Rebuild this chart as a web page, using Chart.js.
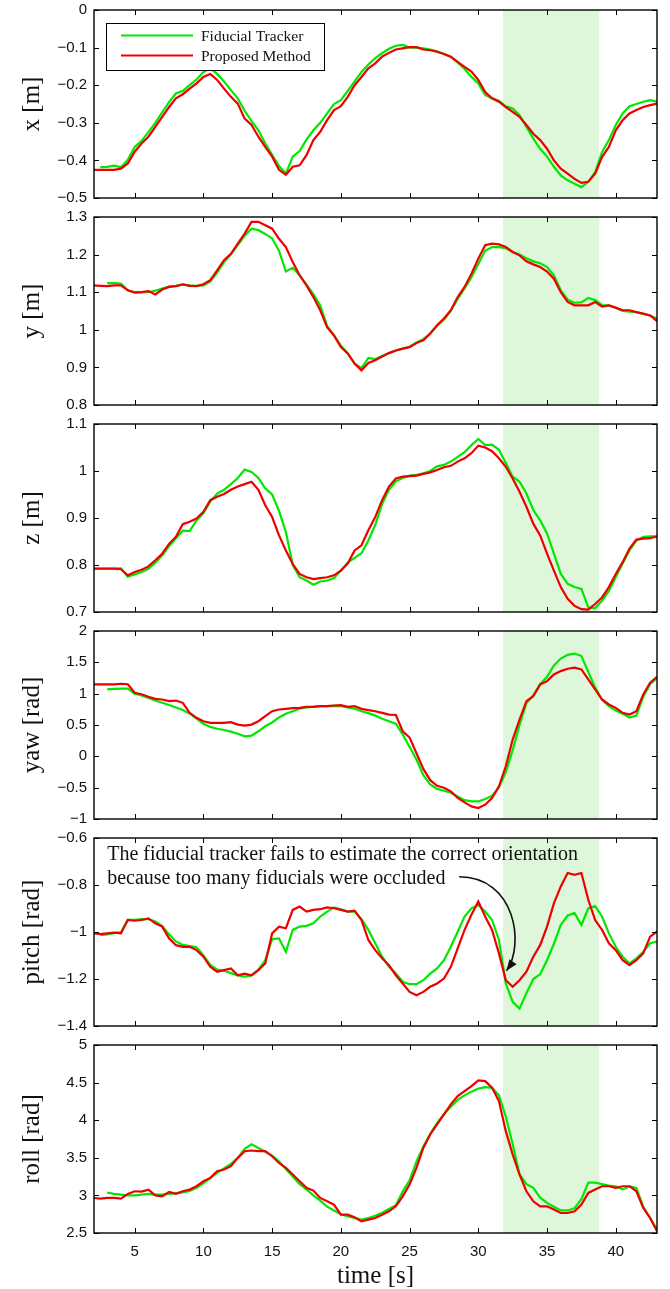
<!DOCTYPE html>
<html>
<head>
<meta charset="utf-8">
<title>Fiducial tracker vs proposed method</title>
<script src="https://cdn.jsdelivr.net/npm/chart.js@4.4.0/dist/chart.umd.min.js"></script>
<style>
  body { margin: 0; background: #fff; }
  #wrap { position: relative; width: 670px; height: 1289px; overflow: hidden; }
  #wrap canvas { position: absolute; left: 0; }
</style>
</head>
<body>
<div id="wrap"></div>
<script>
// time axis, seconds (samples every 0.5 s)
const time = [2, 2.5, 3, 3.5, 4, 4.5, 5, 5.5, 6, 6.5, 7, 7.5, 8, 8.5, 9, 9.5, 10, 10.5, 11, 11.5,
  12, 12.5, 13, 13.5, 14, 14.5, 15, 15.5, 16, 16.5, 17, 17.5, 18, 18.5, 19, 19.5, 20, 20.5, 21, 21.5,
  22, 22.5, 23, 23.5, 24, 24.5, 25, 25.5, 26, 26.5, 27, 27.5, 28, 28.5, 29, 29.5, 30, 30.5, 31, 31.5,
  32, 32.5, 33, 33.5, 34, 34.5, 35, 35.5, 36, 36.5, 37, 37.5, 38, 38.5, 39, 39.5, 40, 40.5, 41, 41.5,
  42, 42.5, 43];

const seriesLabels = ["Fiducial Tracker", "Proposed Method"];
const occluded = [31.8, 38.8];
const xTicks = [5, 10, 15, 20, 25, 30, 35, 40];
const noteLines = [
  "The fiducial tracker fails to estimate the correct orientation",
  "because too many fiducials were occluded"
];

const xTracker = [null, -0.418, -0.417, -0.414, -0.418, -0.398, -0.364, -0.348, -0.325, -0.3, -0.272, -0.245, -0.222, -0.215, -0.2, -0.185, -0.165, -0.155, -0.17, -0.19,
  -0.213, -0.235, -0.268, -0.295, -0.32, -0.355, -0.385, -0.415, -0.435, -0.39, -0.375, -0.345, -0.32, -0.3, -0.275, -0.25, -0.24, -0.215, -0.19, -0.165,
  -0.145, -0.128, -0.115, -0.103, -0.095, -0.093, -0.1, -0.1, -0.102, -0.105, -0.11, -0.117, -0.125, -0.14, -0.157, -0.178, -0.195, -0.226, -0.235, -0.241,
  -0.256, -0.262, -0.28, -0.311, -0.342, -0.369, -0.39, -0.417, -0.44, -0.453, -0.462, -0.471, -0.457, -0.431, -0.378, -0.346, -0.306, -0.275, -0.256, -0.25,
  -0.244, -0.24, -0.244];
const xProposed = [-0.425, -0.425, -0.425, -0.425, -0.422, -0.408, -0.377, -0.355, -0.337, -0.311, -0.284, -0.258, -0.235, -0.224, -0.209, -0.195, -0.178, -0.17, -0.186, -0.209,
  -0.231, -0.249, -0.289, -0.306, -0.337, -0.364, -0.39, -0.425, -0.438, -0.417, -0.413, -0.386, -0.346, -0.324, -0.293, -0.266, -0.256, -0.231, -0.2, -0.178,
  -0.155, -0.142, -0.124, -0.114, -0.105, -0.102, -0.099, -0.099, -0.105, -0.107, -0.111, -0.117, -0.124, -0.138, -0.151, -0.164, -0.186, -0.218, -0.235, -0.244,
  -0.258, -0.271, -0.284, -0.306, -0.329, -0.346, -0.369, -0.4, -0.422, -0.435, -0.449, -0.46, -0.457, -0.435, -0.391, -0.364, -0.32, -0.293, -0.275, -0.266,
  -0.258, -0.253, -0.249];

const yTracker = [null, null, 1.124, 1.124, 1.123, 1.105, 1.1, 1.1, 1.1, 1.104, 1.11, 1.115, 1.117, 1.12, 1.118, 1.117, 1.118, 1.128, 1.152, 1.18,
  1.2, 1.225, 1.25, 1.269, 1.265, 1.255, 1.243, 1.21, 1.155, 1.165, 1.145, 1.12, 1.095, 1.065, 1.01, 0.985, 0.958, 0.937, 0.91, 0.898,
  0.925, 0.922, 0.93, 0.938, 0.945, 0.95, 0.955, 0.966, 0.975, 0.99, 1.01, 1.027, 1.05, 1.082, 1.11, 1.14, 1.175, 1.21, 1.22, 1.22,
  1.217, 1.207, 1.2, 1.19, 1.182, 1.177, 1.167, 1.145, 1.105, 1.08, 1.072, 1.073, 1.085, 1.079, 1.066, 1.065, 1.058, 1.05, 1.048, 1.047,
  1.042, 1.038, 1.03];
const yProposed = [1.118, 1.117, 1.116, 1.118, 1.118, 1.105, 1.099, 1.1, 1.103, 1.094, 1.107, 1.114, 1.116, 1.121, 1.117, 1.116, 1.121, 1.132, 1.158, 1.185,
  1.202, 1.229, 1.256, 1.287, 1.287, 1.278, 1.269, 1.242, 1.22, 1.18, 1.145, 1.118, 1.087, 1.052, 1.007, 0.985, 0.954, 0.937, 0.91, 0.892,
  0.912, 0.919, 0.929, 0.938, 0.945, 0.95, 0.954, 0.965, 0.972, 0.99, 1.012, 1.03, 1.052, 1.087, 1.114, 1.149, 1.189, 1.225, 1.229, 1.227,
  1.22, 1.207, 1.198, 1.182, 1.174, 1.167, 1.155, 1.136, 1.1, 1.074, 1.065, 1.065, 1.065, 1.074, 1.062, 1.065, 1.059, 1.052, 1.052, 1.047,
  1.043, 1.038, 1.023];

const zTracker = [0.793, 0.793, 0.793, 0.793, 0.793, 0.775, 0.78, 0.785, 0.792, 0.805, 0.82, 0.84, 0.857, 0.873, 0.872, 0.895, 0.91, 0.935, 0.952, 0.96,
  0.972, 0.985, 1.003, 0.998, 0.985, 0.963, 0.95, 0.915, 0.87, 0.8, 0.774, 0.767, 0.758, 0.765, 0.767, 0.772, 0.788, 0.805, 0.815, 0.825,
  0.852, 0.885, 0.93, 0.96, 0.978, 0.985, 0.99, 0.992, 0.995, 1.0, 1.01, 1.013, 1.02, 1.03, 1.04, 1.055, 1.068, 1.055, 1.056, 1.045,
  1.017, 0.988, 0.977, 0.952, 0.917, 0.895, 0.867, 0.824, 0.781, 0.76, 0.753, 0.749, 0.71, 0.708, 0.724, 0.745, 0.774, 0.803, 0.831, 0.852,
  0.86, 0.861, 0.861];
const zProposed = [0.792, 0.792, 0.792, 0.792, 0.791, 0.778, 0.785, 0.79, 0.797, 0.81, 0.824, 0.845, 0.86, 0.887, 0.892, 0.899, 0.913, 0.938, 0.945, 0.951,
  0.96, 0.967, 0.972, 0.977, 0.96, 0.927, 0.902, 0.863, 0.831, 0.802, 0.781, 0.774, 0.77, 0.772, 0.774, 0.778, 0.788, 0.803, 0.831, 0.842,
  0.874, 0.902, 0.938, 0.967, 0.984, 0.988, 0.989, 0.99, 0.994, 0.997, 1.002, 1.008, 1.011, 1.02, 1.027, 1.038, 1.054, 1.05, 1.042, 1.027,
  1.009, 0.984, 0.956, 0.924, 0.888, 0.863, 0.824, 0.788, 0.753, 0.728, 0.713, 0.706, 0.705, 0.717, 0.731, 0.753, 0.781, 0.806, 0.835, 0.854,
  0.856, 0.857, 0.861];

const yawTracker = [null, null, 1.067, 1.075, 1.08, 1.08, 1.0, 0.97, 0.93, 0.89, 0.855, 0.82, 0.78, 0.74, 0.68, 0.6, 0.52, 0.47, 0.44, 0.42,
  0.395, 0.36, 0.32, 0.33, 0.4, 0.48, 0.54, 0.62, 0.68, 0.72, 0.76, 0.78, 0.79, 0.8, 0.8, 0.805, 0.8, 0.78, 0.76, 0.72,
  0.69, 0.65, 0.6, 0.56, 0.52, 0.35, 0.15, -0.05, -0.3, -0.45, -0.52, -0.55, -0.58, -0.64, -0.7, -0.72, -0.72, -0.68, -0.63, -0.5,
  -0.25, 0.1, 0.5, 0.85, 0.97, 1.15, 1.27, 1.45, 1.56, 1.62, 1.64, 1.6, 1.35, 1.1, 0.9, 0.8, 0.73, 0.68, 0.62, 0.65,
  0.95, 1.15, 1.25];
const yawProposed = [1.147, 1.147, 1.147, 1.147, 1.158, 1.15, 1.014, 0.99, 0.95, 0.918, 0.907, 0.88, 0.89, 0.854, 0.694, 0.614, 0.56, 0.534, 0.534, 0.534,
  0.545, 0.507, 0.491, 0.507, 0.56, 0.64, 0.72, 0.747, 0.758, 0.769, 0.774, 0.79, 0.79, 0.801, 0.801, 0.811, 0.817, 0.79, 0.8, 0.758,
  0.737, 0.72, 0.694, 0.667, 0.66, 0.4, 0.3, 0.05, -0.2, -0.38, -0.47, -0.5, -0.559, -0.665, -0.735, -0.799, -0.825, -0.772, -0.665, -0.479,
  -0.159, 0.268, 0.587, 0.88, 0.96, 1.147, 1.2, 1.307, 1.36, 1.398, 1.414, 1.387, 1.227, 1.067, 0.907, 0.827, 0.774, 0.694, 0.667, 0.72,
  0.987, 1.174, 1.27];

const pitchTracker = [null, -1.013, -1.01, -1.005, -1.0, -0.948, -0.948, -0.945, -0.945, -0.955, -0.975, -1.01, -1.04, -1.055, -1.06, -1.065, -1.1, -1.14, -1.16, -1.165,
  -1.175, -1.185, -1.19, -1.185, -1.16, -1.12, -1.03, -1.027, -1.084, -0.991, -0.977, -0.974, -0.963, -0.934, -0.913, -0.895, -0.903, -0.913, -0.913, -0.945,
  -0.991, -1.048, -1.105, -1.148, -1.177, -1.212, -1.222, -1.222, -1.205, -1.177, -1.155, -1.12, -1.063, -0.999, -0.934, -0.899, -0.885, -0.913, -0.949, -1.034,
  -1.219, -1.297, -1.326, -1.26, -1.2, -1.18, -1.12, -1.05, -0.97, -0.93, -0.92, -0.97, -0.9, -0.89, -0.934, -1.006, -1.063, -1.105, -1.134, -1.112,
  -1.084, -1.048, -1.041];
const pitchProposed = [-1.006, -1.009, -1.006, -1.003, -1.006, -0.949, -0.952, -0.949, -0.942, -0.963, -0.977, -1.027, -1.056, -1.063, -1.063, -1.077, -1.105, -1.148, -1.169, -1.162,
  -1.155, -1.184, -1.177, -1.184, -1.162, -1.134, -1.006, -0.977, -0.984, -0.906, -0.892, -0.913, -0.906, -0.903, -0.895, -0.899, -0.906, -0.913, -0.909, -0.949,
  -1.034, -1.077, -1.112, -1.141, -1.184, -1.219, -1.255, -1.269, -1.255, -1.233, -1.219, -1.198, -1.148, -1.07, -0.991, -0.927, -0.87, -0.934, -0.991, -1.091,
  -1.205, -1.233, -1.205, -1.169, -1.105, -1.056, -0.977, -0.878, -0.806, -0.749, -0.757, -0.749, -0.863, -0.949, -0.991, -1.048, -1.077, -1.12, -1.141, -1.12,
  -1.091, -1.02, -0.998];

const rollTracker = [null, null, 3.037, 3.02, 3.01, 3.0, 3.0, 3.01, 3.02, 3.01, 3.01, 3.02, 3.03, 3.04, 3.06, 3.1, 3.16, 3.23, 3.3, 3.36,
  3.42, 3.5, 3.62, 3.68, 3.63, 3.58, 3.53, 3.45, 3.35, 3.25, 3.15, 3.08, 3.0, 2.93, 2.85, 2.8, 2.75, 2.72, 2.7, 2.68,
  2.7, 2.73, 2.77, 2.82, 2.87, 3.05, 3.2, 3.45, 3.65, 3.82, 3.96, 4.08, 4.18, 4.27, 4.33, 4.38, 4.42, 4.44, 4.43, 4.33,
  4.05, 3.68, 3.28, 3.15, 3.1, 2.97, 2.9, 2.85, 2.8, 2.8, 2.83, 2.95, 3.17, 3.17, 3.15, 3.13, 3.12, 3.08, 3.12, 3.1,
  2.85, 2.7, 2.55];
const rollProposed = [2.966, 2.957, 2.966, 2.966, 2.957, 3.02, 3.055, 3.05, 3.077, 3.0, 2.988, 3.046, 3.02, 3.055, 3.077, 3.122, 3.188, 3.233, 3.321, 3.344,
  3.388, 3.499, 3.588, 3.597, 3.588, 3.588, 3.521, 3.432, 3.366, 3.277, 3.188, 3.1, 3.064, 2.966, 2.922, 2.877, 2.744, 2.744, 2.709, 2.655,
  2.678, 2.7, 2.744, 2.789, 2.855, 2.988, 3.144, 3.366, 3.632, 3.81, 3.943, 4.076, 4.21, 4.321, 4.387, 4.454, 4.529, 4.52, 4.432, 4.254,
  3.854, 3.544, 3.277, 3.055, 2.922, 2.855, 2.855, 2.811, 2.766, 2.766, 2.789, 2.877, 3.033, 3.077, 3.122, 3.122, 3.1, 3.122, 3.122, 3.055,
  2.833, 2.7, 2.522];

const panels = [
  { title: "x [m]", min: -0.5, max: 0, step: 0.1, tracker: xTracker, proposed: xProposed },
  { title: "y [m]", min: 0.8, max: 1.3, step: 0.1, tracker: yTracker, proposed: yProposed },
  { title: "z [m]", min: 0.7, max: 1.1, step: 0.1, tracker: zTracker, proposed: zProposed },
  { title: "yaw [rad]", min: -1, max: 2, step: 0.5, tracker: yawTracker, proposed: yawProposed },
  { title: "pitch [rad]", min: -1.4, max: -0.6, step: 0.2, tracker: pitchTracker, proposed: pitchProposed },
  { title: "roll [rad]", min: 2.5, max: 5, step: 0.5, tracker: rollTracker, proposed: rollProposed }
];

const GREEN = "rgb(0, 232, 0)";
const RED = "rgb(238, 0, 0)";
const SHADE = "rgb(222, 246, 218)";
const SERIF = "'Liberation Serif', 'Times New Roman', serif";
const plotTops = [10, 217, 424, 631, 838, 1045];
const plotHeight = 188;

Chart.defaults.font.family = "'Liberation Sans', Arial, sans-serif";
Chart.defaults.color = "#111";

function toPoints(values) {
  return time.map((t, i) => ({ x: t, y: values[i] }));
}

function fmt(v) {
  return String(+v.toFixed(2)).replace("-", "\u2212");
}

// shaded occlusion band + MATLAB style box with inward ticks
const frame = {
  id: "frame",
  beforeDatasetsDraw(chart) {
    const { ctx, chartArea: a, scales: { x } } = chart;
    const x0 = x.getPixelForValue(occluded[0]);
    const x1 = x.getPixelForValue(occluded[1]);
    ctx.save();
    ctx.fillStyle = SHADE;
    ctx.fillRect(x0, a.top, x1 - x0, a.bottom - a.top);
    ctx.restore();
  },
  afterDatasetsDraw(chart) {
    const { ctx, chartArea: a, scales: { x, y } } = chart;
    ctx.save();
    ctx.strokeStyle = "#000";
    ctx.lineWidth = 1;
    ctx.beginPath();
    x.ticks.forEach(function(t) {
      const px = Math.round(x.getPixelForValue(t.value)) + 0.5;
      ctx.moveTo(px, a.bottom); ctx.lineTo(px, a.bottom - 5);
      ctx.moveTo(px, a.top); ctx.lineTo(px, a.top + 5);
    });
    y.ticks.forEach(function(t) {
      const py = Math.round(y.getPixelForValue(t.value)) + 0.5;
      ctx.moveTo(a.left, py); ctx.lineTo(a.left + 5, py);
      ctx.moveTo(a.right, py); ctx.lineTo(a.right - 5, py);
    });
    ctx.stroke();
    ctx.lineWidth = 1.4;
    ctx.strokeRect(a.left, a.top, a.right - a.left, a.bottom - a.top);
    ctx.restore();
  }
};

const boxLegend = {
  id: "boxLegend",
  afterDraw(chart) {
    const { ctx, chartArea: a } = chart;
    const left = a.left + 12, top = a.top + 13;
    ctx.save();
    ctx.fillStyle = "#fff";
    ctx.fillRect(left, top, 218, 47);
    ctx.strokeStyle = "#000";
    ctx.lineWidth = 1;
    ctx.strokeRect(left + 0.5, top + 0.5, 218, 47);
    ctx.font = "15.5px " + SERIF;
    ctx.textBaseline = "middle";
    chart.data.datasets.forEach(function(ds, i) {
      const ly = top + 12.5 + i * 20;
      ctx.strokeStyle = ds.borderColor;
      ctx.lineWidth = 2;
      ctx.beginPath();
      ctx.moveTo(left + 15, ly);
      ctx.lineTo(left + 87, ly);
      ctx.stroke();
      ctx.fillStyle = "#111";
      ctx.fillText(ds.label, left + 95, ly + 1);
    });
    ctx.restore();
  }
};

const note = {
  id: "note",
  afterDraw(chart) {
    const { ctx, scales: { x, y } } = chart;
    const px = (t) => x.getPixelForValue(t);
    const py = (v) => y.getPixelForValue(v);
    ctx.save();
    ctx.fillStyle = "#111";
    ctx.font = "20px " + SERIF;
    ctx.textBaseline = "middle";
    ctx.fillText(noteLines[0], px(3.0), py(-0.672));
    ctx.fillText(noteLines[1], px(3.0), py(-0.775));
    const p0 = [px(28.6), py(-0.765)];
    const p1 = [px(32.7), py(-0.765)];
    const p2 = [px(33.4), py(-1.055)];
    const p3 = [px(32.05), py(-1.165)];
    ctx.strokeStyle = "#111";
    ctx.lineWidth = 1.6;
    ctx.beginPath();
    ctx.moveTo(p0[0], p0[1]);
    ctx.bezierCurveTo(p1[0], p1[1], p2[0], p2[1], p3[0], p3[1]);
    ctx.stroke();
    const ang = Math.atan2(p3[1] - p2[1], p3[0] - p2[0]);
    const len = 12;
    ctx.beginPath();
    ctx.moveTo(p3[0], p3[1]);
    ctx.lineTo(p3[0] - len * Math.cos(ang - 0.38), p3[1] - len * Math.sin(ang - 0.38));
    ctx.lineTo(p3[0] - len * Math.cos(ang + 0.38), p3[1] - len * Math.sin(ang + 0.38));
    ctx.closePath();
    ctx.fill();
    ctx.restore();
  }
};

const wrap = document.getElementById("wrap");

panels.forEach(function(p, i) {
  const last = i === panels.length - 1;
  const padTop = 10;
  const below = last ? 56 : 10;
  const canvas = document.createElement("canvas");
  canvas.width = 670;
  canvas.height = padTop + plotHeight + below;
  canvas.style.top = (plotTops[i] - padTop) + "px";
  wrap.appendChild(canvas);

  const extra = [frame];
  if (i === 0) extra.push(boxLegend);
  if (p.title.indexOf("pitch") === 0) extra.push(note);

  new Chart(canvas.getContext("2d"), {
    type: "line",
    data: {
      datasets: [
        { label: seriesLabels[0], data: toPoints(p.tracker), borderColor: GREEN, borderWidth: 2.2, pointRadius: 0, order: 2 },
        { label: seriesLabels[1], data: toPoints(p.proposed), borderColor: RED, borderWidth: 2.2, pointRadius: 0, order: 1 }
      ]
    },
    options: {
      responsive: false,
      animation: false,
      devicePixelRatio: 1,
      events: [],
      layout: { padding: { top: padTop, right: 13, bottom: last ? 0 : below, left: 0 } },
      plugins: { legend: { display: false }, tooltip: { enabled: false } },
      scales: {
        x: {
          type: "linear",
          min: 2.04,
          max: 43,
          afterBuildTicks(scale) { scale.ticks = xTicks.map(v => ({ value: v })); },
          afterFit(scale) {
            scale.height = last ? 56 : 0;
            scale.paddingLeft = 0; scale.paddingRight = 0;
          },
          grid: { display: false, drawTicks: false },
          border: { display: false },
          ticks: { display: last, padding: 10, font: { size: 15 }, color: "#111", maxRotation: 0 },
          title: {
            display: last,
            text: "time [s]",
            font: { family: SERIF, size: 25, lineHeight: 1 },
            color: "#111",
            padding: { top: 0, bottom: 0 }
          }
        },
        y: {
          min: p.min,
          max: p.max,
          afterFit(scale) {
            scale.width = 94;
            scale.paddingTop = 0; scale.paddingBottom = 0;
          },
          grid: { display: false, drawTicks: false },
          border: { display: false },
          ticks: { stepSize: p.step, padding: 7, font: { size: 15 }, color: "#111", callback: fmt },
          title: {
            display: true,
            text: p.title,
            font: { family: SERIF, size: 25, lineHeight: 1 },
            color: "#111",
            padding: { top: 20, bottom: 0 }
          }
        }
      }
    },
    plugins: extra
  });
});
</script>
</body>
</html>
